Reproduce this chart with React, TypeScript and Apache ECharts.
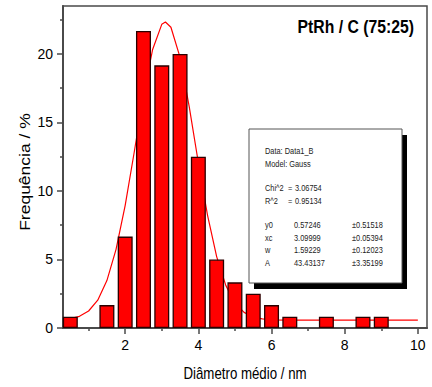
import React, { useEffect, useRef } from "react";
import * as echarts from "echarts";

// Histogram bins (diameter, nm) and frequencies (%)
const binCenters = [0.5, 1.5, 2.0, 2.5, 3.0, 3.5, 4.0, 4.5, 5.0, 5.5, 6.0, 6.5, 7.5, 8.5, 9.0];
const frequencies = [0.83, 1.67, 6.67, 21.67, 19.17, 20.0, 12.5, 5.0, 3.33, 2.5, 1.67, 0.83, 0.83, 0.83, 0.83];

// Gauss fit curve
const curveX = [0.5, 0.75, 1, 1.25, 1.5, 1.75, 2, 2.25, 2.5, 2.75, 3, 3.1, 3.25, 3.5, 3.75, 4, 4.25, 4.5, 4.75, 5, 5.25, 5.5, 5.75, 6, 6.5, 7, 8, 9, 10];
const curveY = [0.68, 0.85, 1.24, 2.03, 3.46, 5.74, 8.95, 12.88, 16.95, 20.33, 22.16, 22.33, 21.95, 19.75, 16.16, 12.06, 8.24, 5.21, 3.11, 1.83, 1.14, 0.8, 0.66, 0.6, 0.58, 0.57, 0.57, 0.57, 0.57];

const xMajorTicks = [2, 4, 6, 8, 10];
const xMinorTicks = [1, 3, 5, 7, 9];
const yMajorTicks = [0, 5, 10, 15, 20];
const yMinorTicks = [2.5, 7.5, 12.5, 17.5, 22.5];

const title = "PtRh / C (75:25)";
const xTitle = "Diâmetro médio / nm";
const yTitle = "Frequência / %";

const boxHeader = ["Data: Data1_B", "Model: Gauss"];
const statNames = ["Chi^2", "R^2"];
const statValues = ["3.06754", "0.95134"];
const fitNames = ["y0", "xc", "w", "A"];
const fitValues = ["0.57246", "3.09999", "1.59229", "43.43137"];
const fitErrors = ["±0.51518", "±0.05394", "±0.12023", "±3.35199"];

const FONT = "'Liberation Sans', Arial, sans-serif";

export default function App() {
  const ref = useRef<HTMLDivElement>(null);

  useEffect(() => {
    if (!ref.current) return;
    const chart = echarts.init(ref.current, null, { renderer: "svg" });

    const axisColor = "#4a4a4a";
    const boxFont = `9.5px ${FONT}`;
    const SX = 0.78;
    const texts: any[] = [];
    const addText = (t: string, x: number, y: number) =>
      texts.push({ type: "text", x, y, scaleX: SX, z: 12, style: { text: t, font: boxFont, fill: "#222", verticalAlign: "middle" } });
    const lx = 265;
    boxHeader.forEach((t, i) => addText(t, lx, 151 + i * 12.5));
    statNames.forEach((t, i) => {
      const y = 188 + i * 12.5;
      addText(t, lx, y);
      addText("=", 288, y);
      addText(statValues[i], 295, y);
    });
    fitNames.forEach((t, i) => {
      const y = 225 + i * 12.5;
      addText(t, lx, y);
      addText(fitValues[i], 294, y);
      addText(fitErrors[i], 352, y);
    });

    chart.setOption({
      animation: false,
      backgroundColor: "#fff",
      grid: { left: 63, right: 5, top: 6, bottom: 59, show: true, borderColor: axisColor, borderWidth: 1.5 },
      xAxis: [
        {
          type: "value", min: 0.3, max: 10.25, position: "bottom",
          axisLine: { show: true, onZero: false, lineStyle: { color: axisColor, width: 2 } },
          axisTick: { show: true, length: 6, customValues: xMajorTicks, lineStyle: { color: axisColor, width: 1.5 } },
          axisLabel: { customValues: xMajorTicks, fontSize: 14, margin: 10, color: "#000", fontFamily: FONT },
          splitLine: { show: false },
        },
        {
          type: "value", min: 0.3, max: 10.25, position: "bottom",
          axisLine: { show: false, onZero: false },
          axisTick: { show: true, length: 3, customValues: xMinorTicks, lineStyle: { color: axisColor, width: 1.5 } },
          axisLabel: { show: false },
          splitLine: { show: false },
        },
      ],
      yAxis: [
        {
          type: "value", min: 0, max: 23.5, position: "left",
          axisLine: { show: true, onZero: false, lineStyle: { color: axisColor, width: 2 } },
          axisTick: { show: true, length: 6, customValues: yMajorTicks, lineStyle: { color: axisColor, width: 1.5 } },
          axisLabel: { customValues: yMajorTicks, fontSize: 14, margin: 10, color: "#000", fontFamily: FONT },
          splitLine: { show: false },
        },
        {
          type: "value", min: 0, max: 23.5, position: "left",
          axisLine: { show: false, onZero: false },
          axisTick: { show: true, length: 3, customValues: yMinorTicks, lineStyle: { color: axisColor, width: 1.5 } },
          axisLabel: { show: false },
          splitLine: { show: false },
        },
      ],
      series: [
        {
          type: "line", xAxisIndex: 0, yAxisIndex: 0, z: 1,
          data: curveX.map((x, i) => [x, curveY[i]]),
          showSymbol: false, symbol: "none",
          lineStyle: { color: "#ff0000", width: 1.2 },
        },
        {
          type: "bar", xAxisIndex: 0, yAxisIndex: 0, z: 3,
          data: binCenters.map((x, i) => [x, frequencies[i]]),
          barWidth: 15,
          itemStyle: { color: "#ff0000", borderColor: "#2a0000", borderWidth: 1.3 },
        },
      ],
      graphic: [
        { type: "text", x: 414, y: 26, scaleX: 0.83, z: 12, style: { text: title, font: `bold 19px ${FONT}`, fill: "#000", align: "right", verticalAlign: "middle" } },
        { type: "text", x: 245, y: 374, scaleX: 0.83, z: 12, style: { text: xTitle, font: `16px ${FONT}`, fill: "#000", align: "center", verticalAlign: "middle" } },
        { type: "text", x: 25, y: 172, rotation: Math.PI / 2, scaleY: 0.85, z: 12, style: { text: yTitle, font: `17.5px ${FONT}`, fill: "#000", align: "center", verticalAlign: "middle" } },
        { type: "rect", shape: { x: 254, y: 135, width: 153, height: 154 }, style: { fill: "#000" }, z: 10 },
        { type: "rect", shape: { x: 249, y: 129, width: 153, height: 154 }, style: { fill: "#fff", stroke: "#555", lineWidth: 1 }, z: 11 },
        ...texts,
      ],
    });

    return () => chart.dispose();
  }, []);

  return <div ref={ref} style={{ position: "fixed", left: 0, top: 0, width: 432, height: 387 }} />;
}
